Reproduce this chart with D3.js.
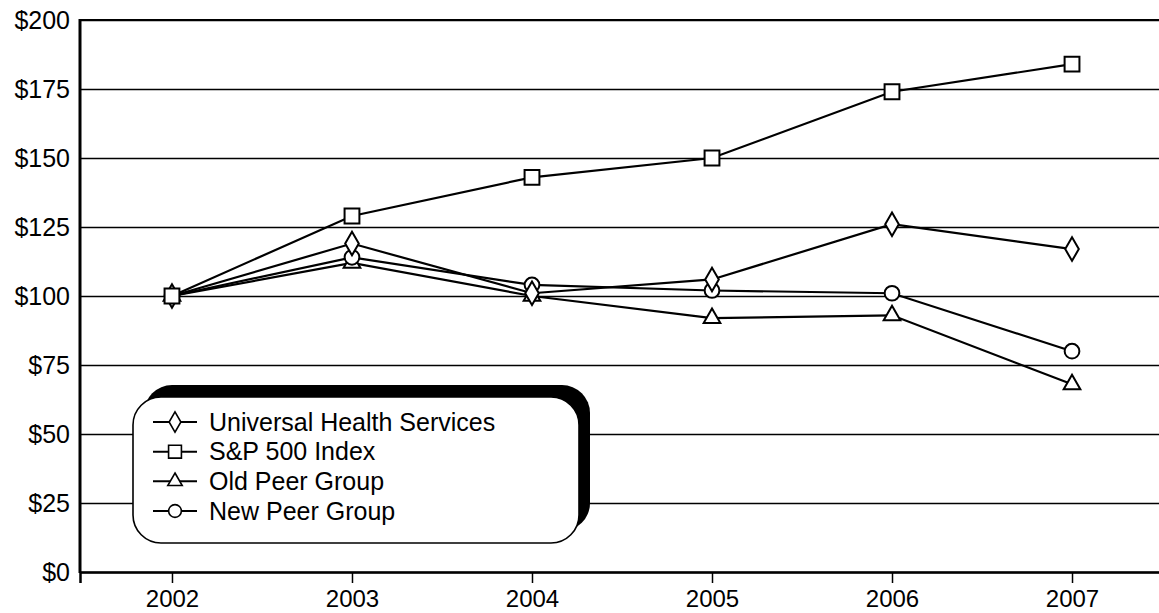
<!DOCTYPE html>
<html><head><meta charset="utf-8">
<script src="https://cdn.jsdelivr.net/npm/d3@7"></script>
<style>body{margin:0;background:#fff}svg{display:block}</style>
</head><body>
<svg id="chart" width="1159" height="613"></svg>
<script>
// ---- data ----
const years = ["2002", "2003", "2004", "2005", "2006", "2007"];
const uhs = [100, 119, 101, 106, 126, 117];
const sp500 = [100, 129, 143, 150, 174, 184];
const oldPeer = [100, 112, 100, 92, 93, 68];
const newPeer = [100, 114, 104, 102, 101, 80];
const yTicks = [0, 25, 50, 75, 100, 125, 150, 175, 200];
const seriesNames = ["Universal Health Services", "S&P 500 Index", "Old Peer Group", "New Peer Group"];

const series = [
  { name: seriesNames[0], values: uhs, sym: d3.symbolDiamond, size: 160 },
  { name: seriesNames[1], values: sp500, sym: d3.symbolSquare, size: 220 },
  { name: seriesNames[2], values: oldPeer, sym: d3.symbolTriangle, size: 120 },
  { name: seriesNames[3], values: newPeer, sym: d3.symbolCircle, size: 170 }
];

const svg = d3.select("#chart");
const L = 80, T = 20, R = 1164, B = 572;
const FONT = "'Liberation Sans', Arial, Helvetica, sans-serif";

const x = d3.scalePoint().domain(years).range([L, R]).padding(0.511);
const y = d3.scaleLinear().domain([0, 200]).range([B, T]);

// y axis + gridlines
const gy = svg.append("g").attr("transform", `translate(${L},0)`)
  .call(d3.axisLeft(y).tickValues(yTicks).tickFormat(d => "$" + d)
    .tickSize(-(R - L)).tickPadding(10));
gy.select(".domain").remove();
gy.selectAll(".tick line").attr("stroke", "#000").attr("stroke-width", 1.7);
gy.selectAll(".tick text").attr("font-family", FONT).attr("font-size", 25).attr("fill", "#000");

// x axis
const gx = svg.append("g").attr("transform", `translate(0,${B})`)
  .call(d3.axisBottom(x).tickSize(11).tickPadding(7));
gx.select(".domain").attr("stroke", "#000").attr("stroke-width", 2.5);
gx.selectAll(".tick line").attr("stroke", "#000").attr("stroke-width", 1.5);
gx.selectAll(".tick text").attr("font-family", FONT).attr("font-size", 24).attr("fill", "#000");

// left axis line
svg.append("line").attr("x1", L).attr("x2", L).attr("y1", y(200) - 1).attr("y2", y(0) + 1)
  .attr("stroke", "#000").attr("stroke-width", 3);
// top border
svg.append("line").attr("x1", L).attr("x2", R).attr("y1", y(200)).attr("y2", y(200))
  .attr("stroke", "#000").attr("stroke-width", 2.2);

// lines
const line = d3.line().x((d, i) => x(years[i])).y(d => y(d));
series.forEach(s => {
  svg.append("path").datum(s.values).attr("d", line)
    .attr("fill", "none").attr("stroke", "#000").attr("stroke-width", 2.2);
});
// markers (drawn so square is on top)
[2, 3, 0, 1].forEach(k => {
  const s = series[k];
  svg.append("g").selectAll("path").data(s.values).join("path")
    .attr("transform", (d, i) => `translate(${x(years[i])},${y(d)})`)
    .attr("d", d3.symbol().type(s.sym).size(s.size))
    .attr("fill", "#fff").attr("stroke", "#000").attr("stroke-width", 2);
});

// legend
const lg = svg.append("g");
const bx = 133, by = 397, bw = 446, bh = 146, br = 28;
lg.append("rect").attr("x", bx + 11).attr("y", by - 12).attr("width", bw).attr("height", bh)
  .attr("rx", br).attr("fill", "#000");
lg.append("rect").attr("x", bx).attr("y", by).attr("width", bw).attr("height", bh)
  .attr("rx", br).attr("fill", "#fff").attr("stroke", "#000").attr("stroke-width", 1.6);
const rowY = d3.scalePoint().domain(seriesNames).range([422, 511]);
series.forEach(s => {
  const ry = rowY(s.name);
  lg.append("line").attr("x1", 153).attr("x2", 197).attr("y1", ry).attr("y2", ry)
    .attr("stroke", "#000").attr("stroke-width", 2);
  lg.append("path").attr("transform", `translate(175,${ry})`)
    .attr("d", d3.symbol().type(s.sym).size(s.size * 0.75))
    .attr("fill", "#fff").attr("stroke", "#000").attr("stroke-width", 1.6);
  lg.append("text").attr("x", 209).attr("y", ry).attr("dy", "0.35em")
    .attr("font-family", FONT).attr("font-size", 25).attr("fill", "#000").text(s.name);
});
</script>
</body></html>
